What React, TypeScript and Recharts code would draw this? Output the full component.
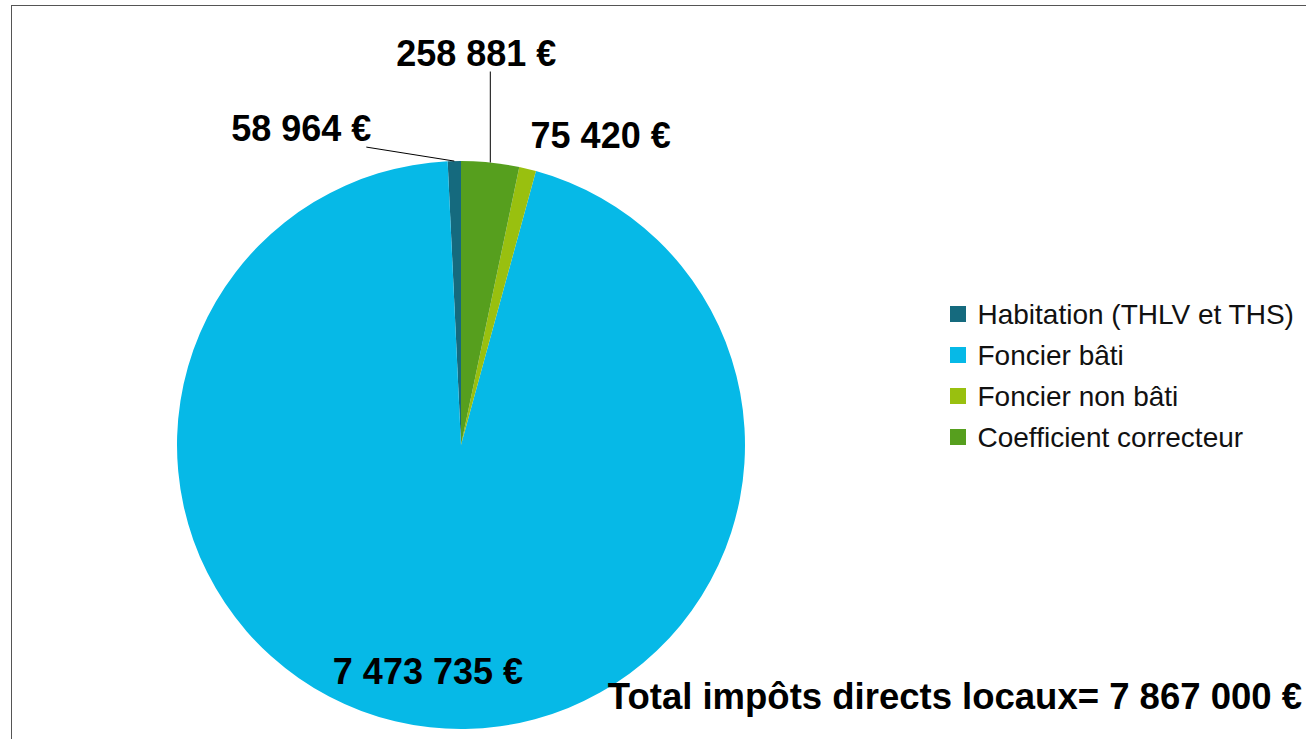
import React from 'react';
import { PieChart, Pie, Cell, Legend } from 'recharts';

const categories = ['Habitation (THLV et THS)', 'Foncier bâti', 'Foncier non bâti', 'Coefficient correcteur'];
const values = [58964, 7473735, 75420, 258881];
const valueLabels = ['58 964 €', '7 473 735 €', '75 420 €', '258 881 €'];
const colors = ['#156a7e', '#06b9e7', '#99c00f', '#569f1e'];
const totalLabel = 'Total impôts directs locaux= 7 867 000 €';

const FONT = '"Liberation Sans", Arial, Helvetica, sans-serif';

// label placement relative to the slice's mid point on its outer edge
const labelPlacement = [
  { inside: 1, dx: -153, dy: -33, line: [-88, -14] },
  { inside: 0.804, dx: -8, dy: 0, line: null },
  { inside: 1, dx: 73, dy: -33, line: null },
  { inside: 1, dx: -14, dy: -109, line: [0, -91] },
];

const data = categories.map((name, i) => ({ name, value: values[i] }));

const RADIAN = Math.PI / 180;

function renderLabel(props: any) {
  const { cx, cy, midAngle, outerRadius, index } = props;
  const cfg = labelPlacement[index];
  const r = outerRadius * cfg.inside;
  const px = cx + r * Math.cos(-midAngle * RADIAN);
  const py = cy + r * Math.sin(-midAngle * RADIAN);
  return (
    <g key={`lbl-${index}`}>
      {cfg.line && (
        <line
          x1={px}
          y1={py}
          x2={px + cfg.line[0]}
          y2={py + cfg.line[1]}
          stroke="#000"
          strokeWidth={1}
        />
      )}
      <text
        x={px + cfg.dx}
        y={py + cfg.dy}
        textAnchor="middle"
        dominantBaseline="central"
        fill="#000"
        stroke="none"
        style={{ fontFamily: FONT, fontSize: 36, fontWeight: 'bold' }}
      >
        {valueLabels[index]}
      </text>
    </g>
  );
}

const renderLegend = () => (
  <div style={{ display: 'flex', flexDirection: 'column' }}>
    {categories.map((c, i) => (
      <div key={c} style={{ display: 'flex', alignItems: 'center', height: 41 }}>
        <span
          style={{
            display: 'inline-block',
            width: 16,
            height: 16,
            background: colors[i],
            marginRight: 11.5,
            flexShrink: 0,
          }}
        />
        <span style={{ fontFamily: FONT, fontSize: 28, color: '#111', whiteSpace: 'nowrap', lineHeight: '41px' }}>
          {c}
        </span>
      </div>
    ))}
  </div>
);

export default function App() {
  return (
    <div
      style={{
        position: 'absolute',
        left: 0,
        top: 0,
        width: 1306,
        height: 739,
        overflow: 'hidden',
        background: '#fff',
      }}
    >
      <div
        style={{
          position: 'absolute',
          left: 11,
          top: 5,
          width: 2000,
          height: 2000,
          border: '1.5px solid #555',
          boxSizing: 'border-box',
        }}
      />
      <div style={{ position: 'absolute', left: 0, top: 0 }}>
        <PieChart width={1306} height={739} margin={{ top: 0, right: 0, bottom: 0, left: 0 }}>
          <Pie
            data={data}
            dataKey="value"
            nameKey="name"
            cx={461}
            cy={445}
            outerRadius={284}
            startAngle={90}
            endAngle={450}
            stroke="none"
            label={renderLabel}
            labelLine={false}
            isAnimationActive={false}
          >
            {data.map((d, i) => (
              <Cell key={d.name} fill={colors[i]} stroke="none" />
            ))}
          </Pie>
          <Legend
            layout="vertical"
            align="right"
            verticalAlign="middle"
            content={renderLegend}
            wrapperStyle={{ position: 'absolute', left: 950, top: 293.5, width: 356, right: 'auto', bottom: 'auto' }}
          />
        </PieChart>
      </div>
      <div
        style={{
          position: 'absolute',
          right: 4,
          top: 678,
          fontFamily: FONT,
          fontSize: 36.5,
          lineHeight: '37px',
          fontWeight: 'bold',
          color: '#000',
          whiteSpace: 'nowrap',
        }}
      >
        {totalLabel}
      </div>
    </div>
  );
}
